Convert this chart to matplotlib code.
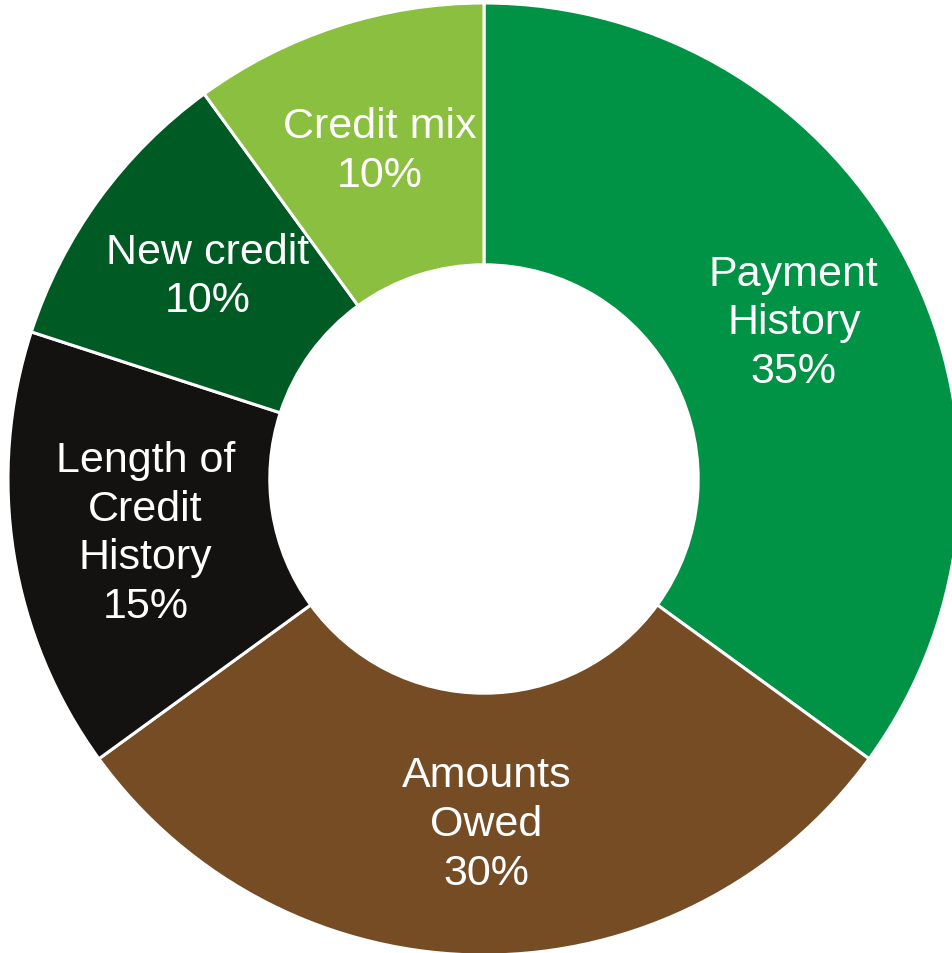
"""Donut chart: FICO score components."""

import numpy as np
import matplotlib.pyplot as plt

plt.rcParams["font.family"] = ["Liberation Sans", "DejaVu Sans"]

labels = ["Payment\nHistory", "Amounts\nOwed", "Length of\nCredit\nHistory", "New credit", "Credit mix"]
shares = [35, 30, 15, 10, 10]
colors = ["#009245", "#754C24", "#141210", "#005A24", "#8BBF3F"]

fig = plt.figure(figsize=(9.53, 9.54), dpi=100)
ax = fig.add_axes([0, 0, 1, 1])

ring = 0.55
wedges, _ = ax.pie(
    shares,
    colors=colors,
    startangle=90,
    counterclock=False,
    radius=1.0,
    wedgeprops=dict(width=ring, edgecolor="white", linewidth=2.2),
)

r_text = 1.0 - ring / 2
for w, lab, s in zip(wedges, labels, shares):
    ang = np.deg2rad((w.theta1 + w.theta2) / 2)
    ax.text(
        r_text * np.cos(ang) + 0.005,
        r_text * np.sin(ang),
        f"{lab}\n{s}%",
        ha="center",
        va="center",
        color="white",
        fontsize=31,
        linespacing=1.28,
    )

# centre of the ring at (484, 480) px, radius 476 px
ax.set_xlim(-484 / 476, (953 - 484) / 476)
ax.set_ylim(-(954 - 480) / 476, 480 / 476)
ax.set_aspect("auto")
ax.axis("off")

fig.savefig("out.png", dpi=100, facecolor="white")
